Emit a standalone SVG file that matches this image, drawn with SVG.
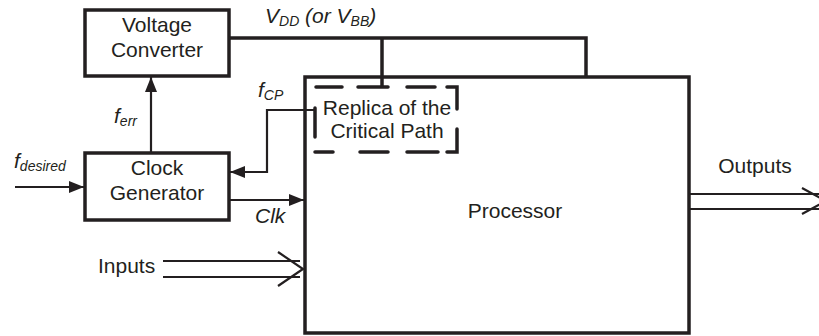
<svg xmlns="http://www.w3.org/2000/svg" width="819" height="336" viewBox="0 0 819 336">
<style>
.box{fill:#fff;stroke:#231f20;stroke-width:3.5}
.thick{fill:none;stroke:#231f20;stroke-width:3.5}
.thin{fill:none;stroke:#231f20;stroke-width:2.2}
.dash{fill:none;stroke:#231f20;stroke-width:3.5;stroke-linecap:round}
text{font-family:"Liberation Sans",Arial,sans-serif;font-size:21px;fill:#231f20}
.c{text-anchor:middle}
.i{font-style:italic}
.sub{font-size:14px}
</style>
<defs>
<marker id="ah" markerUnits="userSpaceOnUse" markerWidth="16" markerHeight="12" refX="15" refY="6" orient="auto">
<path d="M0,0 L15,6 L0,12 Z" fill="#231f20"/>
</marker>
</defs>
<g id="voltage-converter">
<rect class="box" x="85" y="10" width="144" height="66"/>
<text class="c" x="157" y="32">Voltage</text>
<text class="c" x="157" y="57">Converter</text>
</g>
<g id="clock-generator">
<rect class="box" x="85" y="153" width="144" height="67"/>
<text class="c" x="157" y="175">Clock</text>
<text class="c" x="157" y="200">Generator</text>
</g>
<g id="processor">
<rect class="box" x="305" y="77" width="384" height="256"/>
<text class="c" x="515" y="218">Processor</text>
</g>
<g id="replica">
<path class="dash" d="M316,87 H342 M358,87 H388 M407,87 H435 M447,87 H457 V109 M457,129 V152 H447 M438,152 H407 M388,152 H360 M333,152 H315 M315,108 V137"/>
<text class="c" x="387" y="115">Replica of the</text>
<text class="c" x="387" y="138">Critical Path</text>
</g>
<g id="connectors">
<path class="thick" d="M229,38 H586 V77"/>
<path class="thick" d="M382,38 V87"/>
<path class="thin" d="M151,153 V77" marker-end="url(#ah)"/>
<path class="thin" d="M315,110 H267 V172 H230" marker-end="url(#ah)"/>
<path class="thin" d="M15,187 H84" marker-end="url(#ah)"/>
<path class="thin" d="M229,200 H304" marker-end="url(#ah)"/>
<path class="thin" d="M163,261 H300 M163,277 H300"/>
<path class="thin" d="M278,252 L303,269 L278,286"/>
<path class="thin" d="M689,194 H822 M689,209 H822"/>
<path class="thin" d="M802,188 L826,201 L802,214"/>
</g>
<g id="labels">
<text class="i" x="265" y="23">V<tspan class="sub" dy="3">DD</tspan><tspan dy="-3"> (or V</tspan><tspan class="sub" dy="3">BB</tspan><tspan dy="-3">)</tspan></text>
<text class="i" x="258" y="97">f<tspan class="sub" dy="3">CP</tspan></text>
<text class="i" x="114" y="123">f<tspan class="sub" dy="3">err</tspan></text>
<text class="i" x="14" y="168">f<tspan class="sub" dy="3">desired</tspan></text>
<text class="i" x="255" y="223">Clk</text>
<text x="98" y="273">Inputs</text>
<text class="c" x="755" y="173">Outputs</text>
</g>
</svg>
